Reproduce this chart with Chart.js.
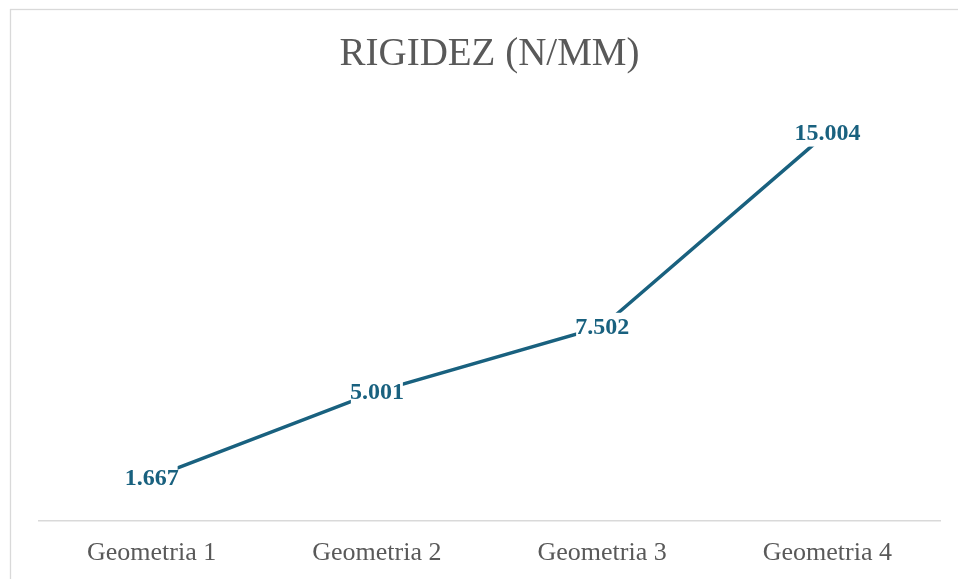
<!DOCTYPE html>
<html>
<head>
<meta charset="utf-8">
<script src="https://cdn.jsdelivr.net/npm/chart.js@4"></script>
<style>
  html, body { margin: 0; padding: 0; background: #fff; }
  #wrap { width: 958px; height: 579px; position: relative; }
</style>
</head>
<body>
<div id="wrap"><canvas id="line-chart"></canvas></div>
<script>
    // data
    const categories = ['Geometria 1', 'Geometria 2', 'Geometria 3', 'Geometria 4'];
    const rigidez = [1.667, 5.001, 7.502, 15.004];
    const titleText = 'RIGIDEZ (N/MM)';

    const lineColor = '#19617f';
    const serif = "'Liberation Serif', 'Times New Roman', serif";

    // outer frame like the excel chart area
    const frame = {
        id: 'frame',
        beforeDraw(chart) {
            const ctx = chart.ctx;
            ctx.save();
            ctx.fillStyle = '#fff';
            ctx.fillRect(0, 0, chart.width, chart.height);
            ctx.strokeStyle = '#d9d9d9';
            ctx.lineWidth = 1.3;
            ctx.strokeRect(10.5, 9.5, 1000, 1000);
            ctx.restore();
        }
    };

    // value labels centered on the points, with white box under them
    const valueLabels = {
        id: 'valueLabels',
        afterDatasetsDraw(chart) {
            const ctx = chart.ctx;
            const meta = chart.getDatasetMeta(0);
            ctx.save();
            ctx.font = 'bold 24px ' + serif;
            ctx.textAlign = 'center';
            ctx.textBaseline = 'middle';
            meta.data.forEach(function (pt, i) {
                const txt = rigidez[i].toFixed(3);
                const w = ctx.measureText(txt).width;
                ctx.fillStyle = '#fff';
                ctx.fillRect(pt.x - w / 2 + 1, pt.y - 14, w - 2, 28);
                ctx.fillStyle = lineColor;
                ctx.fillText(txt, pt.x, pt.y + 1);
            });
            ctx.restore();
        }
    };

    new Chart(document.getElementById('line-chart'), {
        type: 'line',
        data: {
            labels: categories,
            datasets: [{
                data: rigidez,
                borderColor: lineColor,
                borderWidth: 3.5,
                pointRadius: 0,
                fill: false,
                tension: 0
            }]
        },
        options: {
            responsive: true,
            maintainAspectRatio: false,
            animation: false,
            devicePixelRatio: 1,
            layout: {
                padding: { left: 39, right: 18, top: 0, bottom: 0 }
            },
            plugins: {
                legend: { display: false },
                tooltip: { enabled: false },
                title: {
                    display: true,
                    text: titleText,
                    color: '#595959',
                    font: { family: serif, size: 39, weight: 'normal', lineHeight: 1.2 },
                    padding: { top: 31, bottom: 29 }
                }
            },
            scales: {
                x: {
                    offset: true,
                    grid: { display: false, drawTicks: false },
                    border: { display: true, color: '#d9d9d9', width: 1.5 },
                    ticks: {
                        color: '#595959',
                        padding: 17,
                        font: { family: serif, size: 26, lineHeight: 1.2 }
                    },
                    afterFit: function (scale) {
                        scale.height = 58;
                    }
                },
                y: {
                    display: false,
                    min: 0,
                    max: 16
                }
            }
        },
        plugins: [frame, valueLabels]
    });
</script>
</body>
</html>
